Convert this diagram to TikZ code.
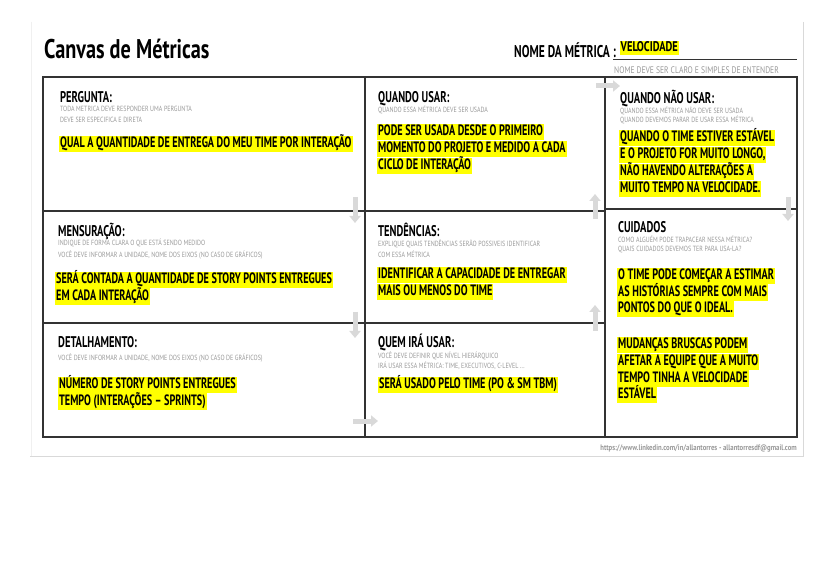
\documentclass[tikz,border=0pt]{standalone}
\usepackage{fontspec}
\usetikzlibrary{arrows.meta}
\newfontfamily\cnd{PT Sans}[FakeStretch=0.68]
\newfontfamily\cnt{PT Sans}[FakeStretch=0.75]
\newfontfamily\cns{PT Sans}[FakeStretch=0.8]
\newfontfamily\cnf{PT Sans}[FakeStretch=0.84]
\definecolor{hl}{HTML}{FFFF00}
\definecolor{sg}{HTML}{999999}
\definecolor{ag}{HTML}{D9D9D9}
\definecolor{ln}{HTML}{333333}
\begin{document}
\begin{tikzpicture}[x=1pt,y=-1pt,
  hd/.style={font=\cnd\bfseries\fontsize{15.5}{15.5}\selectfont, anchor=base west, inner sep=0},
  sb/.style={font=\cns\fontsize{7.5}{8}\selectfont, text=sg, anchor=west, inner sep=0},
  an/.style={font=\cnd\bfseries\fontsize{15}{15}\selectfont, fill=hl, anchor=west, inner xsep=1, inner ysep=0, text height=12, text depth=4.5},
  grid/.style={draw=ln, line width=1.1},
  garrow/.style={draw=ag, line width=5, -{Triangle[width=11,length=7]}}]
\path[use as bounding box, fill=white] (0,0) rectangle (833,585);
% page frame
\draw[gray!30, line width=1] (803,22) -- (803,456) -- (30,456);
\draw[gray!12, line width=1] (31,22) -- (31,456);
% title
\node[anchor=base west, inner sep=0, font=\cnt\bfseries\fontsize{27}{27}\selectfont] (title) at (44,59) {Canvas de Métricas};
\node[anchor=base west, inner sep=0, font=\cnd\bfseries\fontsize{17}{17}\selectfont] (nm) at (514,58) {NOME DA MÉTRICA :};
\node[anchor=west, fill=hl, inner xsep=1, inner ysep=0, text height=10.5, text depth=3, font=\cnt\bfseries\fontsize{14}{14}\selectfont] (vel) at (619.5,48) {VELOCIDADE};
\draw[ln, line width=0.8] (613,59) -- (797,59);
\node[sb, font=\cns\fontsize{9.5}{10}\selectfont] (nmsub) at (614,70.5) {NOME DEVE SER CLARO E SIMPLES DE ENTENDER};
% grid
\draw[grid] (43,77) rectangle (797,437);
\draw[grid] (365,77) -- (365,437);
\draw[grid] (605,77) -- (605,437);
\draw[grid] (43,211) -- (605,211);
\draw[grid] (43,323) -- (605,323);
\draw[grid] (605,209) -- (797,209);
% arrows
\draw[garrow] (355,197) -- (355,223);
\draw[garrow] (596,86) -- (620,86);
\draw[garrow] (595,219) -- (595,194);
\draw[garrow] (788,197) -- (788,221);
\draw[garrow] (355,312) -- (355,338);
\draw[garrow] (595,331) -- (595,305);
\draw[garrow] (353,421) -- (378,421);
% PERGUNTA
\node[hd] (h1) at (60,103) {PERGUNTA:};
\node[sb] (s1a) at (60,109) {TODA METRICA DEVE RESPONDER UMA PERGUNTA};
\node[sb] (s1b) at (60,120) {DEVE SER ESPECIFICA E DIRETA};
\node[an] (a1) at (59,144) {QUAL A QUANTIDADE DE ENTREGA DO MEU TIME POR INTERAÇÃO};
% QUANDO USAR
\node[hd] (h2) at (378,103) {QUANDO USAR:};
\node[sb] (s2a) at (378,110) {QUANDO ESSA MÉTRICA DEVE SER USADA};
\node[an] (a2a) at (377,132) {PODE SER USADA DESDE O PRIMEIRO};
\node[an] (a2b) at (377,149) {MOMENTO DO PROJETO E MEDIDO A CADA};
\node[an] (a2c) at (377,166) {CICLO DE INTERAÇÃO};
% QUANDO NAO USAR
\node[hd] (h3) at (620,103.5) {QUANDO NÃO USAR:};
\node[sb] (s3a) at (620,110.5) {QUANDO ESSA MÉTRICA NÃO DEVE SER USADA};
\node[sb] (s3b) at (620,119.5) {QUANDO DEVEMOS PARAR DE USAR ESSA MÉTRICA};
\node[an] (a3a) at (619,138) {QUANDO O TIME ESTIVER ESTÁVEL};
\node[an] (a3b) at (619,155) {E O PROJETO FOR MUITO LONGO,};
\node[an] (a3c) at (619,172) {NÃO HAVENDO ALTERAÇÕES A};
\node[an] (a3d) at (619,189) {MUITO TEMPO NA VELOCIDADE.};
% MENSURACAO
\node[hd] (h4) at (58,237) {MENSURAÇÃO:};
\node[sb] (s4a) at (58,242.5) {INDIQUE DE FORMA CLARA O QUE ESTÁ SENDO MEDIDO};
\node[sb] (s4b) at (58,255) {VOCÊ DEVE INFORMAR A UNIDADE, NOME DOS EIXOS (NO CASO DE GRÁFICOS)};
\node[an] (a4a) at (55,280) {SERÁ CONTADA A QUANTIDADE DE STORY POINTS ENTREGUES};
\node[an] (a4b) at (55,296.5) {EM CADA INTERAÇÃO};
% TENDENCIAS
\node[hd] (h5) at (378,237) {TENDÊNCIAS:};
\node[sb] (s5a) at (378,243.5) {EXPLIQUE QUAIS TENDÊNCIAS SERÃO POSSIVEIS IDENTIFICAR};
\node[sb] (s5b) at (378,254.5) {COM ESSA MÉTRICA};
\node[an] (a5a) at (377,275) {IDENTIFICAR A CAPACIDADE DE ENTREGAR};
\node[an] (a5b) at (377,292) {MAIS OU MENOS DO TIME};
% CUIDADOS
\node[hd] (h6) at (618,233) {CUIDADOS};
\node[sb] (s6a) at (618,239.5) {COMO ALGUÉM PODE TRAPACEAR NESSA MÉTRICA?};
\node[sb] (s6b) at (618,249.5) {QUAIS CUIDADOS DEVEMOS TER PARA USA-LA?};
\node[an] (a6a) at (617,276) {O TIME PODE COMEÇAR A ESTIMAR};
\node[an] (a6b) at (617,292.5) {AS HISTÓRIAS SEMPRE COM MAIS};
\node[an] (a6c) at (617,309) {PONTOS DO QUE O IDEAL.};
% DETALHAMENTO
\node[hd] (h7) at (58,348) {DETALHAMENTO:};
\node[sb] (s7a) at (58,358) {VOCÊ DEVE INFORMAR A UNIDADE, NOME DOS EIXOS (NO CASO DE GRÁFICOS)};
\node[an] (a7a) at (58,385) {NÚMERO DE STORY POINTS ENTREGUES};
\node[an] (a7b) at (58,401.5) {TEMPO (INTERAÇÕES – SPRINTS)};
% QUEM IRA USAR
\node[hd] (h8) at (378,348) {QUEM IRÁ USAR:};
\node[sb] (s8a) at (378,355.5) {VOCÊ DEVE DEFINIR QUE NÍVEL HIERÁRQUICO};
\node[sb] (s8b) at (378,366) {IRÁ USAR ESSA MÉTRICA: TIME, EXECUTIVOS, C-LEVEL ...};
\node[an] (a8a) at (378,385) {SERÁ USADO PELO TIME (PO \& SM TBM)};
% MUDANCAS
\node[an] (a9a) at (617,345) {MUDANÇAS BRUSCAS PODEM};
\node[an] (a9b) at (617,362) {AFETAR A EQUIPE QUE A MUITO};
\node[an] (a9c) at (617,378.5) {TEMPO TINHA A VELOCIDADE};
\node[an] (a9d) at (617,395) {ESTÁVEL};
% footer
\node[anchor=base east, inner sep=0, text=sg, font=\cnf\bfseries\fontsize{8}{8}\selectfont] (foot) at (797,450) {https://www.linkedin.com/in/allantorres - allantorresdf@gmail.com};
\end{tikzpicture}
\end{document}
